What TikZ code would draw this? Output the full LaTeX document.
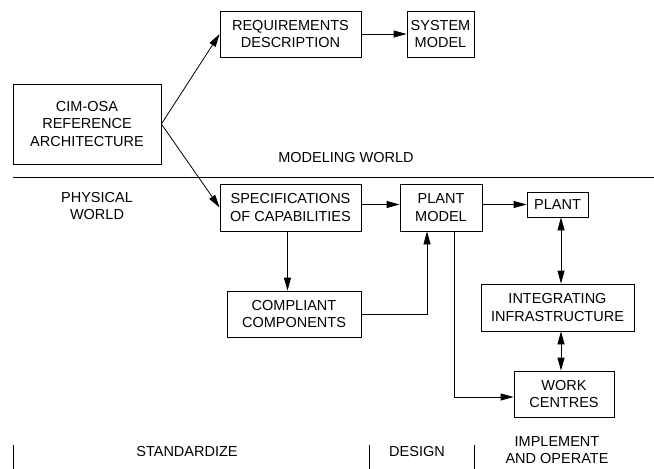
\documentclass[tikz,border=0pt]{standalone}
\usepackage{fontspec}
\setmainfont{Liberation Sans}
\usetikzlibrary{arrows.meta, positioning}

\begin{document}
\begin{tikzpicture}[
            x=1pt, y=-1pt,
            box/.style={draw, align=center, inner sep=0pt, line width=0.8pt},
            lbl/.style={align=center},
            every node/.style={font=\fontsize{14.5}{17.5}\selectfont},
            line width=0.8pt,
            >={Triangle[length=13pt, width=7pt]}]

        \useasboundingbox (0,0) rectangle (654,469);

        % modeling world
        \node[box, minimum width=148pt, minimum height=80pt] (CIM) at (87,124) {CIM-OSA\\REFERENCE\\ARCHITECTURE};
        \node[box, minimum width=141pt, minimum height=46pt] (REQ) at (290.5,34) {REQUIREMENTS\\DESCRIPTION};
        \node[box, minimum width=67pt, minimum height=46pt] (SYS) at (440.5,34) {SYSTEM\\MODEL};
        \node[lbl] (MW) at (346,158) {MODELING WORLD};

        \draw (13,177) -- (654,177);

        % physical world
        \node[lbl] (PW) at (97,206) {PHYSICAL\\WORLD};
        \node[box, minimum width=141pt, minimum height=47pt] (SPEC) at (290.5,207.5) {SPECIFICATIONS\\OF CAPABILITIES};
        \node[box, minimum width=82pt, minimum height=47pt] (PM) at (441,207.5) {PLANT\\MODEL};
        \node[box, minimum width=61pt, minimum height=25pt] (PLANT) at (557.5,204.5) {PLANT};
        \node[box, minimum width=134pt, minimum height=46pt] (COMP) at (294,314) {COMPLIANT\\COMPONENTS};
        \node[box, minimum width=153pt, minimum height=47pt] (INT) at (557.5,307.5) {INTEGRATING\\INFRASTRUCTURE};
        \node[box, minimum width=100pt, minimum height=46pt] (WC) at (564,394) {WORK\\CENTRES};

        \draw[->] (CIM.east) -- (REQ.west);
        \draw[->] (CIM.east) -- (SPEC.west);
        \draw[->] (REQ) -- (SYS);
        \draw[->] (SPEC.east |- PLANT.west) -- (PM.west |- PLANT.west);
        \draw[->] (PM.east |- PLANT.west) -- (PLANT.west);
        \draw[->] ([xshift=-3pt]SPEC.south) -- ([xshift=-3pt]SPEC.south |- COMP.north);
        \draw[->] (COMP.east) -| ([xshift=-14pt]PM.south);
        \draw[->] ([xshift=13pt]PM.south) |- ([yshift=-3pt]WC.west);
        \draw[<->] ([xshift=3.5pt]PLANT.south) -- ([xshift=3.5pt]PLANT.south |- INT.north);
        \draw[<->] ([xshift=3.5pt]INT.south) -- ([xshift=3.5pt]INT.south |- WC.north);

        % phases
        \draw (13,445) -- (13,469);
        \draw (369,445) -- (369,469);
        \draw (474,445) -- (474,469);
        \node[lbl] (STD) at (187,452) {STANDARDIZE};
        \node[lbl] (DES) at (417,452) {DESIGN};
        \node[lbl] (IMP) at (557,450) {IMPLEMENT\\AND OPERATE};

    \end{tikzpicture}
\end{document}
